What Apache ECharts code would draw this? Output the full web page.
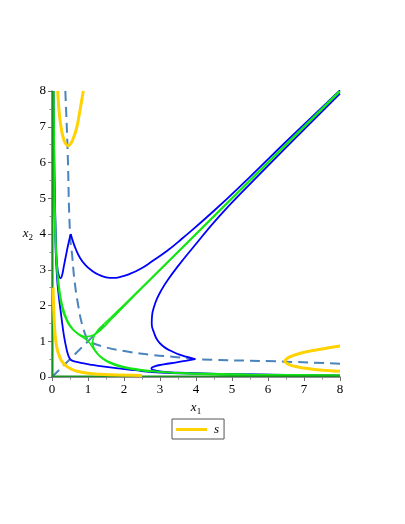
<!DOCTYPE html>
<html>
<head>
<meta charset="utf-8">
<script src="https://cdn.jsdelivr.net/npm/echarts@6/dist/echarts.min.js"></script>
<style>html,body{margin:0;padding:0;background:#fff;}#c{width:405px;height:524px;}</style>
</head>
<body>
<div id="c"></div>
<script>
// ---- data ----
var xTicks = [0,1,2,3,4,5,6,7,8];
var yTicks = [0,1,2,3,4,5,6,7,8];

// yellow "s" branches
var sNearOrigin = [[0.03,2.5],[0.04,2.1],[0.06,1.6],[0.08,1.25],[0.11,0.98],[0.15,0.76],[0.2,0.6],[0.26,0.46],[0.33,0.37],[0.42,0.29],[0.54,0.22],[0.7,0.16],[0.95,0.11],[1.3,0.08],[1.8,0.055],[2.5,0.04]];
var sTopLeft = [[0.16,8],[0.18,7.65],[0.21,7.3],[0.25,7.0],[0.3,6.74],[0.36,6.56],[0.44,6.47],[0.52,6.53],[0.6,6.7],[0.68,6.95],[0.75,7.3],[0.81,7.65],[0.87,8]];
var sBottomRight = [[8,0.16],[7.65,0.18],[7.3,0.21],[7.0,0.25],[6.74,0.3],[6.56,0.36],[6.47,0.44],[6.53,0.52],[6.7,0.6],[6.95,0.68],[7.3,0.75],[7.65,0.81],[8,0.87]];

// dashed steel-blue lines
var dashDiag = [[0,0],[1.45,1.45]];
var dashSteep = [[0.37,8],[0.43,6.45],[0.5,4.0],[0.56,3.4],[0.62,2.75],[0.72,2.05],[0.85,1.42],[1,1]];
var dashShallow = [[8,0.37],[6.45,0.43],[4.0,0.5],[3.4,0.56],[2.75,0.62],[2.05,0.72],[1.42,0.85],[1,1]];

// blue curves
var blueUpperA = [[0.04,8],[0.05,7],[0.065,6],[0.08,5],[0.1,4.2],[0.12,3.5],[0.15,3.05],[0.19,2.83],[0.24,2.76],[0.28,2.85],[0.33,3.1],[0.4,3.46],[0.46,3.75],[0.52,4.0]];
var blueUpperB = [[0.52,4.0],[0.58,3.8],[0.66,3.58],[0.78,3.33],[0.93,3.13],[1.1,2.98],[1.3,2.86],[1.5,2.79],[1.7,2.77],[1.9,2.8],[2.15,2.88],[2.45,3.02],[2.8,3.25],[3.2,3.53],[3.6,3.86],[4.5,4.65],[5.5,5.6],[6.5,6.58],[8,8.02]];
var blueLowerA = [[8,0.04],[7,0.05],[6,0.065],[5,0.08],[4.2,0.1],[3.5,0.12],[3.05,0.15],[2.83,0.19],[2.76,0.24],[2.85,0.3],[3.1,0.35],[3.46,0.41],[3.75,0.46],[3.97,0.5]];
var blueLowerB = [[3.97,0.5],[3.75,0.56],[3.5,0.64],[3.28,0.74],[3.09,0.86],[2.93,1.03],[2.83,1.25],[2.77,1.5],[2.78,1.72],[2.83,1.95],[2.92,2.2],[3.05,2.45],[3.22,2.72],[3.5,3.1],[3.9,3.6],[4.65,4.5],[5.6,5.5],[6.58,6.5],[8,7.93]];
var blueInnerA = [[0.04,8],[0.05,6.5],[0.07,5],[0.1,3.6],[0.14,2.78],[0.19,2.25],[0.24,1.85],[0.29,1.45],[0.34,1.11],[0.39,0.85],[0.44,0.64],[0.48,0.54],[0.51,0.49]];
var blueInnerB = [[0.51,0.49],[0.56,0.46],[0.65,0.43],[0.85,0.385],[1.11,0.34],[1.45,0.29],[1.85,0.24],[2.3,0.19],[2.78,0.14],[3.6,0.1],[5,0.07],[8,0.04]];

// green curves
var greenUpper = [[0.03,8],[0.05,5.5],[0.08,4.2],[0.13,3.2],[0.21,2.43],[0.3,1.95],[0.42,1.6],[0.55,1.38],[0.68,1.24],[0.82,1.16],[0.97,1.13],[1.12,1.16],[1.27,1.25],[1.42,1.38],[1.6,1.57],[1.9,1.88],[2.5,2.49],[4,3.99],[8,7.98]];
var greenLower = [[8,0.03],[5.5,0.05],[4.2,0.08],[3.2,0.13],[2.43,0.21],[1.95,0.3],[1.6,0.42],[1.38,0.55],[1.24,0.68],[1.16,0.82],[1.13,0.97],[1.16,1.12],[1.25,1.27],[1.38,1.42],[1.57,1.6],[1.88,1.9],[2.49,2.5],[3.99,4],[7.98,8]];
var greenCross = [[0.05,8],[0.07,5.5],[0.1,4.0],[0.14,3.0],[0.2,2.35],[0.3,1.85],[0.36,1.69],[0.5,1.42],[0.73,1.2],[1,1],[1.2,0.73],[1.42,0.5],[1.69,0.36],[1.85,0.3],[2.35,0.2],[3,0.14],[4,0.1],[5.5,0.07],[8,0.05]];
var darkGreenX = [[0,0.02],[8,0.02]];
var darkGreenY = [[0.02,0],[0.02,8]];

// ---- chart ----
var SERIF = 'Liberation Serif';
function ln(name, data, color, width, opts) {
  opts = opts || {};
  return {
    name: name, type: 'line', data: data, symbol: 'none', smooth: opts.smooth === undefined ? 0.5 : opts.smooth,
    lineStyle: { color: color, width: width, type: opts.dash ? [10,6] : 'solid', cap: 'butt' },
    itemStyle: { color: color }, z: opts.z || 2, silent: true, animation: false, clip: true
  };
}
var DASH = '#4a84bd', BLUE = '#0000ff', GREEN = '#14e614', DGREEN = '#17911e', GOLD = '#ffd200';
var series = [
  ln('dash', dashDiag, DASH, 2, {dash: true, smooth: false}),
  ln('dash', dashSteep, DASH, 2, {dash: true}),
  ln('dash', dashShallow, DASH, 2, {dash: true}),
  ln('blue', blueUpperA, BLUE, 1.8),
  ln('blue', blueUpperB, BLUE, 1.8),
  ln('blue', blueLowerA, BLUE, 1.8),
  ln('blue', blueLowerB, BLUE, 1.8),
  ln('blue', blueInnerA, BLUE, 1.8),
  ln('blue', blueInnerB, BLUE, 1.8),
  ln('green', greenUpper, GREEN, 1.7, {z: 3}),
  ln('green', greenLower, GREEN, 1.7, {z: 3}),
  ln('green', greenCross, GREEN, 1.7, {z: 3}),
  ln('dgreen', darkGreenX, DGREEN, 1.6, {z: 3, smooth: false}),
  ln('dgreen', darkGreenY, DGREEN, 1.6, {z: 3, smooth: false}),
  ln('s', sNearOrigin, GOLD, 3, {z: 4}),
  ln('s', sTopLeft, GOLD, 3, {z: 4}),
  ln('s', sBottomRight, GOLD, 3, {z: 4})
];

var axisCommon = {
  type: 'value', interval: 1,
  axisLine: { show: true, onZero: false, lineStyle: { color: '#6e6e6e', width: 1.5 } },
  axisTick: { show: true, inside: false, length: 4, lineStyle: { color: '#6e6e6e' } },
  minorTick: { show: true, splitNumber: 2, length: 2.5, lineStyle: { color: '#8a8a8a' } },
  splitLine: { show: false },
  axisLabel: { color: '#000', fontFamily: SERIF, fontSize: 13, margin: 6 },
  nameLocation: 'middle', nameRotate: 0
};
var nameRich = { i: { fontFamily: SERIF, fontStyle: 'italic', fontSize: 13, color: '#000' }, s: { fontFamily: SERIF, fontSize: 9, color: '#000', padding: [8,0,0,0] } };

var chart = echarts.init(document.getElementById('c'), null, { renderer: 'canvas' });
chart.setOption({
  backgroundColor: '#fff',
  animation: false,
  grid: { left: 52, right: 65, top: 91, bottom: 147, containLabel: false },
  xAxis: Object.assign({}, axisCommon, {
    min: xTicks[0], max: xTicks[xTicks.length - 1],
    name: '{i|x}{s|1}', nameGap: 20, nameTextStyle: { rich: nameRich }
  }),
  yAxis: Object.assign({}, axisCommon, {
    min: yTicks[0], max: yTicks[yTicks.length - 1],
    name: '{i|x}{s|2}', nameGap: 19, nameTextStyle: { rich: nameRich }
  }),
  legend: {
    data: ['s'], left: 172, top: 419, orient: 'horizontal',
    borderColor: '#555', borderWidth: 1, borderRadius: 0, padding: [4, 5, 3, 4],
    itemWidth: 31, itemHeight: 3, itemGap: 5, icon: 'rect',
    textStyle: { fontFamily: SERIF, fontStyle: 'italic', fontSize: 13, color: '#000', padding: [0,0,0,2] },
    selectedMode: false
  },
  series: series
});
</script>
</body>
</html>
